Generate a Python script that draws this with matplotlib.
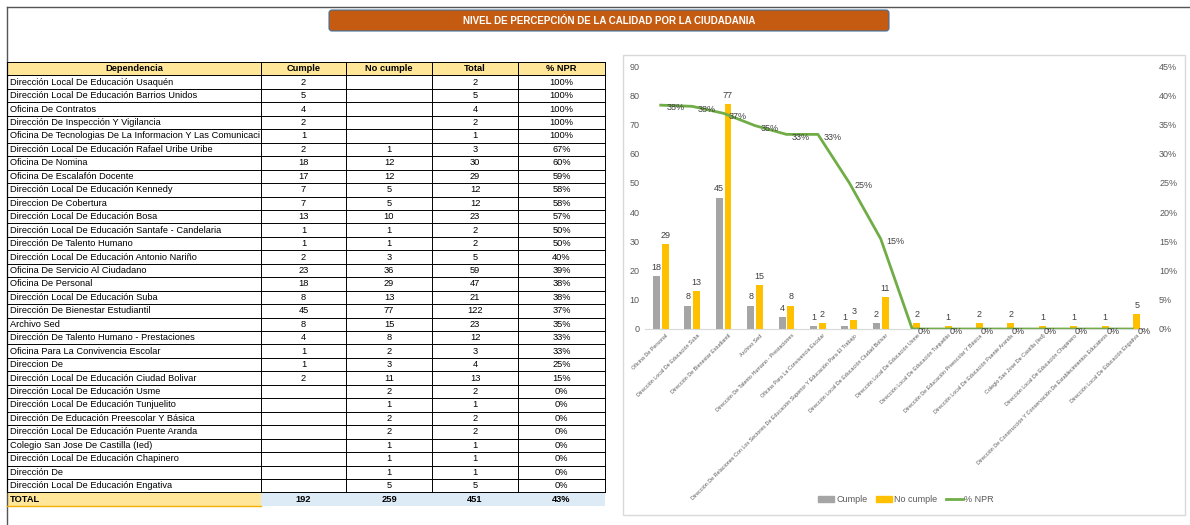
import numpy as np
import matplotlib.pyplot as plt
from matplotlib.patches import Rectangle, FancyBboxPatch
from matplotlib.lines import Line2D
from matplotlib.transforms import Bbox, TransformedBbox

plt.rcParams['font.family'] = ['Liberation Sans Narrow', 'Liberation Sans', 'DejaVu Sans']

# ---- table data ----
dependencias = [
    "Dirección Local De Educación Usaquén",
    "Dirección Local De Educación Barrios Unidos",
    "Oficina De Contratos",
    "Dirección De Inspección Y Vigilancia",
    "Oficina De Tecnologias De La Informacion Y Las Comunicaciones",
    "Dirección Local De Educación Rafael Uribe Uribe",
    "Oficina De Nomina",
    "Oficina De Escalafón Docente",
    "Dirección Local De Educación Kennedy",
    "Direccion De Cobertura",
    "Dirección Local De Educación Bosa",
    "Dirección Local De Educación Santafe - Candelaria",
    "Dirección De Talento Humano",
    "Dirección Local De Educación Antonio Nariño",
    "Oficina De Servicio Al Ciudadano",
    "Oficina De Personal",
    "Dirección Local De Educación Suba",
    "Dirección De Bienestar Estudiantil",
    "Archivo Sed",
    "Dirección De Talento Humano - Prestaciones",
    "Oficina Para La Convivencia Escolar",
    "Direccion De",
    "Dirección Local De Educación Ciudad Bolivar",
    "Dirección Local De Educación Usme",
    "Dirección Local De Educación Tunjuelito",
    "Dirección De Educación Preescolar Y Básica",
    "Dirección Local De Educación Puente Aranda",
    "Colegio San Jose De Castilla (Ied)",
    "Dirección Local De Educación Chapinero",
    "Dirección De",
    "Dirección Local De Educación Engativa",
]
cumple = [2, 5, 4, 2, 1, 2, 18, 17, 7, 7, 13, 1, 1, 2, 23, 18, 8, 45, 8, 4, 1, 1, 2,
          None, None, None, None, None, None, None, None]
no_cumple = [None, None, None, None, None, 1, 12, 12, 5, 5, 10, 1, 1, 3, 36, 29, 13, 77,
             15, 8, 2, 3, 11, 2, 1, 2, 2, 1, 1, 1, 5]
total = [2, 5, 4, 2, 1, 3, 30, 29, 12, 12, 23, 2, 2, 5, 59, 47, 21, 122, 23, 12, 3, 4, 13,
         2, 1, 2, 2, 1, 1, 1, 5]
npr = ["100%", "100%", "100%", "100%", "100%", "67%", "60%", "59%", "58%", "58%", "57%",
       "50%", "50%", "40%", "39%", "38%", "38%", "37%", "35%", "33%", "33%", "25%", "15%",
       "0%", "0%", "0%", "0%", "0%", "0%", "0%", "0%"]
headers = ["Dependencia", "Cumple", "No cumple", "Total", "% NPR"]
total_row = ["TOTAL", "192", "259", "451", "43%"]

# ---- chart data ----
chart_cats = [
    "Oficina De Personal",
    "Dirección Local De Educación Suba",
    "Dirección De Bienestar Estudiantil",
    "Archivo Sed",
    "Dirección De Talento Humano - Prestaciones",
    "Oficina Para La Convivencia Escolar",
    "Dirección De Relaciones Con Los Sectores De Educación Superior Y Educación Para El Trabajo",
    "Dirección Local De Educación Ciudad Bolivar",
    "Dirección Local De Educación Usme",
    "Dirección Local De Educación Tunjuelito",
    "Dirección De Educación Preescolar Y Básica",
    "Dirección Local De Educación Puente Aranda",
    "Colegio San Jose De Castilla (Ied)",
    "Dirección Local De Educación Chapinero",
    "Dirección De Construcción Y Conservación De Establecimientos Educativos",
    "Dirección Local De Educación Engativa",
]
chart_cumple = [18, 8, 45, 8, 4, 1, 1, 2, 0, 0, 0, 0, 0, 0, 0, 0]
chart_no_cumple = [29, 13, 77, 15, 8, 2, 3, 11, 2, 1, 2, 2, 1, 1, 1, 5]
chart_npr = [0.383, 0.381, 0.369, 0.348, 0.333, 0.333, 0.25, 0.154,
             0, 0, 0, 0, 0, 0, 0, 0]

W, H = 1190, 525
fig = plt.figure(figsize=(W / 100, H / 100), dpi=100)
fig.patch.set_facecolor('white')

bg = fig.add_axes([0, 0, 1, 1])
bg.set_xlim(0, W)
bg.set_ylim(H, 0)
bg.axis('off')

# outer sheet lines
bg.plot([7, W], [7, 7], color='#555555', lw=1)
bg.plot([7, 7], [7, H], color='#555555', lw=1)

# title bar
bg.add_patch(FancyBboxPatch((329, 10), 560, 21, boxstyle='round,pad=0,rounding_size=3',
                            facecolor='#C55A11', edgecolor='#41719C', lw=0.8))
bg.text(609, 21, "NIVEL DE PERCEPCIÓN DE LA CALIDAD POR LA CIUDADANIA", color='white',
        fontsize=7, fontweight='bold', ha='center', va='center')

# table
cols = [7, 261, 346, 432, 518, 605]
top = 62
rh = 13.45
nrows = len(dependencias)
fs = 6.7

for j in range(5):
    bg.add_patch(Rectangle((cols[j], top), cols[j + 1] - cols[j], rh, facecolor='#FFE699',
                           edgecolor='none'))
    bg.text((cols[j] + cols[j + 1]) / 2, top + rh / 2, headers[j], ha='center', va='center',
            fontsize=fs, fontweight='bold')

clipbox = TransformedBbox(Bbox([[7, 0], [cols[1] - 1, H]]), bg.transData)
for i in range(nrows):
    yc = top + rh * (i + 1.5)
    t = bg.text(10, yc, dependencias[i], ha='left', va='center', fontsize=fs)
    t.set_clip_box(clipbox)
    t.set_clip_on(True)
    vals = [cumple[i], no_cumple[i], total[i], npr[i]]
    for j, v in enumerate(vals):
        if v is None:
            continue
        bg.text((cols[j + 1] + cols[j + 2]) / 2, yc, str(v), ha='center', va='center', fontsize=fs)

# grid lines
bottom = top + rh * (nrows + 1)
for i in range(nrows + 2):
    y = top + rh * i
    bg.plot([cols[0], cols[-1]], [y, y], color='black', lw=0.7)
for x in cols:
    bg.plot([x, x], [top, bottom], color='black', lw=0.7)

# total row
bg.add_patch(Rectangle((cols[0], bottom), cols[1] - cols[0], rh, facecolor='#FFE699',
                       edgecolor='none'))
bg.plot([cols[0], cols[1]], [bottom + rh, bottom + rh], color='#F4B000', lw=1)
bg.add_patch(Rectangle((cols[1], bottom), cols[-1] - cols[1], rh, facecolor='#DDEBF7',
                       edgecolor='none'))
bg.text(10, bottom + rh / 2, total_row[0], ha='left', va='center', fontsize=fs,
        fontweight='bold')
for j in range(1, 5):
    bg.text((cols[j] + cols[j + 1]) / 2, bottom + rh / 2, total_row[j], ha='center',
            va='center', fontsize=fs, fontweight='bold')

# chart frame
bg.add_patch(Rectangle((623, 55), 562, 460, facecolor='none', edgecolor='#D9D9D9', lw=1))

# chart
x0, x1, y0, y1 = 645, 1148, 66, 329
ax = fig.add_axes([x0 / W, (H - y1) / H, (x1 - x0) / W, (y1 - y0) / H])
ax.patch.set_alpha(0)
x = np.arange(len(chart_cats))
bw = 0.22
b1 = ax.bar(x - 0.14, chart_cumple, bw, color='#A5A5A5')
b2 = ax.bar(x + 0.14, chart_no_cumple, bw, color='#FFC000')
for bars, vals in ((b1, chart_cumple), (b2, chart_no_cumple)):
    for b, v in zip(bars, vals):
        if v:
            ax.annotate(str(v), (b.get_x() + b.get_width() / 2, v), xytext=(0, 3),
                        textcoords='offset points', ha='center', va='bottom',
                        fontsize=6.5, color='#404040')
ax.set_xlim(-0.5, len(chart_cats) - 0.5)
ax.set_ylim(0, 90)
ax.set_yticks(range(0, 91, 10))
ax.set_xticks(x + 0.15)
ax.set_xticklabels(chart_cats, rotation=45, ha='right', rotation_mode='anchor',
                   fontsize=3.9, color='#595959')
ax.tick_params(axis='y', labelsize=6.5, labelcolor='#595959', length=0, pad=4)
ax.tick_params(axis='x', length=0, pad=3)
for s in ('top', 'right', 'left'):
    ax.spines[s].set_visible(False)
ax.spines['bottom'].set_color('#D9D9D9')

ax2 = ax.twinx()
ax2.plot(x, chart_npr, color='#70AD47', lw=2)
for xi, v in zip(x, chart_npr):
    ax2.annotate(f"{round(v * 100)}%", (xi, v), xytext=(4, -2), textcoords='offset points',
                 ha='left', va='center', fontsize=6.5, color='#404040')
ax2.set_ylim(0, 0.45)
ax2.set_yticks(np.arange(0, 0.451, 0.05))
ax2.set_yticklabels([f"{int(round(t * 100))}%" for t in np.arange(0, 0.451, 0.05)])
ax2.tick_params(axis='y', labelsize=6.5, labelcolor='#595959', length=0, pad=8)
for s in ax2.spines.values():
    s.set_visible(False)

handles = [Rectangle((0, 0), 1, 1, color='#A5A5A5'),
           Rectangle((0, 0), 1, 1, color='#FFC000'),
           Line2D([0], [0], color='#70AD47', lw=2)]
leg = fig.legend(handles, ['Cumple', 'No cumple', '% NPR'], loc='center',
                 bbox_to_anchor=(906 / W, (H - 500) / H), ncol=3, frameon=False,
                 fontsize=6.5, handlelength=1.8, handleheight=0.6, columnspacing=1.0,
                 handletextpad=0.2)
for t in leg.get_texts():
    t.set_color('#595959')

fig.savefig('out.png', dpi=100)
